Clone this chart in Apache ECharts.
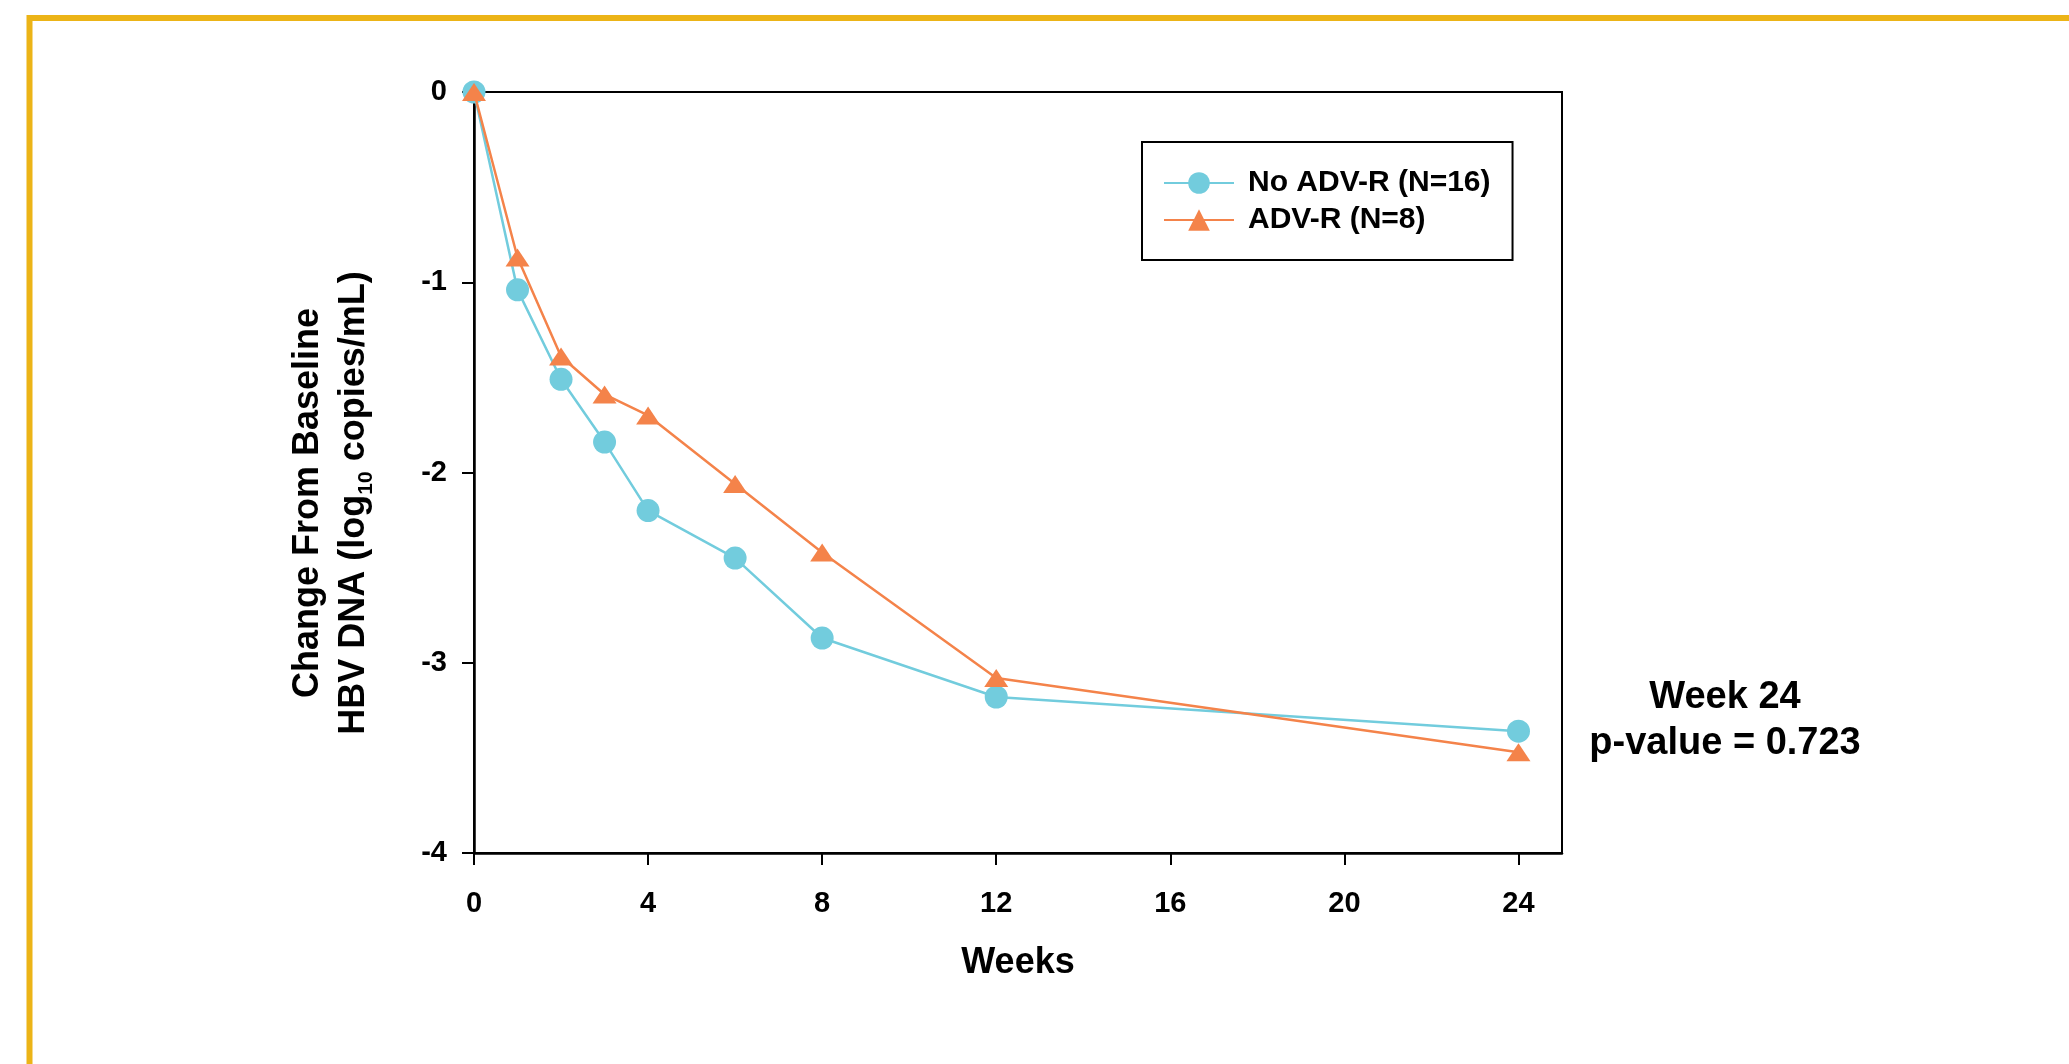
<!DOCTYPE html>
<html>
<head>
<meta charset="utf-8">
<script src="https://cdn.jsdelivr.net/npm/echarts@6/dist/echarts.min.js"></script>
<style>
html,body{margin:0;padding:0;background:#fff;}
#chart{width:2069px;height:1064px;}
</style>
</head>
<body>
<div id="chart"></div>
<script>
// ---- data ----
var weeks = [0, 1, 2, 3, 4, 6, 8, 12, 24];
var noAdvR = [0, -1.04, -1.51, -1.84, -2.20, -2.45, -2.87, -3.18, -3.36];
var advR = [0, -0.87, -1.39, -1.59, -1.70, -2.06, -2.42, -3.08, -3.47];
var seriesNames = ['No ADV-R (N=16)', 'ADV-R (N=8)'];
var xTicks = [0, 4, 8, 12, 16, 20, 24];
var yTicks = [0, -1, -2, -3, -4];
var xTitle = 'Weeks';
var yTitle1 = 'Change From Baseline';
var annotation = ['Week 24', 'p-value = 0.723'];

var FONT = '"Liberation Sans", Arial, Helvetica, sans-serif';
var CYAN = '#72CCDD';
var ORANGE = '#F4834A';

function pairs(xs, ys) { return xs.map(function (x, i) { return [x, ys[i]]; }); }

var chart = echarts.init(document.getElementById('chart'), null, {renderer: 'canvas'});
chart.setOption({
  backgroundColor: '#fff',
  animation: false,
  textStyle: {fontFamily: FONT},
  grid: {left: 474, right: 507, top: 92, bottom: 211, show: true, borderColor: '#000', borderWidth: 2, backgroundColor: 'transparent'},
  xAxis: {
    type: 'value', min: 0, max: 25,
    name: xTitle, nameLocation: 'middle', nameGap: 92,
    nameTextStyle: {fontSize: 36, fontWeight: 'bold', color: '#000', fontFamily: FONT},
    axisLine: {show: true, onZero: false, lineStyle: {color: '#000', width: 2.5}},
    axisTick: {show: true, inside: false, length: 12, customValues: xTicks, lineStyle: {color: '#000', width: 2}},
    axisLabel: {customValues: xTicks, margin: 36, fontSize: 29, fontWeight: 'bold', color: '#000', fontFamily: FONT},
    splitLine: {show: false}
  },
  yAxis: {
    type: 'value', min: -4, max: 0, interval: 1,
    axisLine: {show: true, onZero: false, lineStyle: {color: '#000', width: 2.5}},
    axisTick: {show: true, inside: false, length: 12, customValues: yTicks, lineStyle: {color: '#000', width: 2}},
    axisLabel: {customValues: yTicks, margin: 27, fontSize: 29, fontWeight: 'bold', color: '#000', fontFamily: FONT},
    splitLine: {show: false}
  },
  legend: {
    left: 1142, top: 142, orient: 'vertical',
    backgroundColor: '#fff',
    borderColor: '#000', borderWidth: 2, borderRadius: 0,
    padding: [26, 22, 25, 21],
    itemGap: 7, itemWidth: 70, itemHeight: 27,
    textStyle: {fontSize: 30, fontWeight: 'bold', color: '#000', fontFamily: FONT, padding: [0, 0, 0, 9]},
    data: seriesNames
  },
  series: [
    {
      name: seriesNames[0], type: 'line', data: pairs(weeks, noAdvR),
      symbol: 'circle', symbolSize: 23,
      lineStyle: {color: CYAN, width: 2.5},
      itemStyle: {color: CYAN},
      z: 3
    },
    {
      name: seriesNames[1], type: 'line', data: pairs(weeks, advR),
      symbol: 'triangle', symbolSize: [24, 18],
      lineStyle: {color: ORANGE, width: 2.5},
      itemStyle: {color: ORANGE},
      z: 4
    }
  ],
  graphic: [
    {
      type: 'rect', silent: true, z: -10,
      shape: {x: 29.5, y: 18, width: 2200, height: 1200},
      style: {fill: 'none', stroke: '#ECB417', lineWidth: 6}
    },
    {
      type: 'text', silent: true,
      x: 331, y: 503, rotation: Math.PI / 2,
      style: {
        text: yTitle1 + '\n{a|HBV DNA (log}{s|10}{a| copies/mL)}',
        fontSize: 36, fontWeight: 'bold', fontFamily: FONT, fill: '#000',
        align: 'center', verticalAlign: 'middle', lineHeight: 46,
        rich: {
          a: {fontSize: 36, fontWeight: 'bold', fontFamily: FONT, fill: '#000', lineHeight: 46},
          s: {fontSize: 21, fontWeight: 'bold', fontFamily: FONT, fill: '#000', lineHeight: 46, verticalAlign: 'bottom', padding: [14, 0, 0, 0]}
        }
      }
    },
    {
      type: 'text', silent: true,
      x: 1725, y: 721,
      style: {
        text: annotation.join('\n'),
        fontSize: 38, fontWeight: 'bold', fontFamily: FONT, fill: '#000',
        align: 'center', verticalAlign: 'middle', lineHeight: 46
      }
    }
  ]
});
</script>
</body>
</html>
